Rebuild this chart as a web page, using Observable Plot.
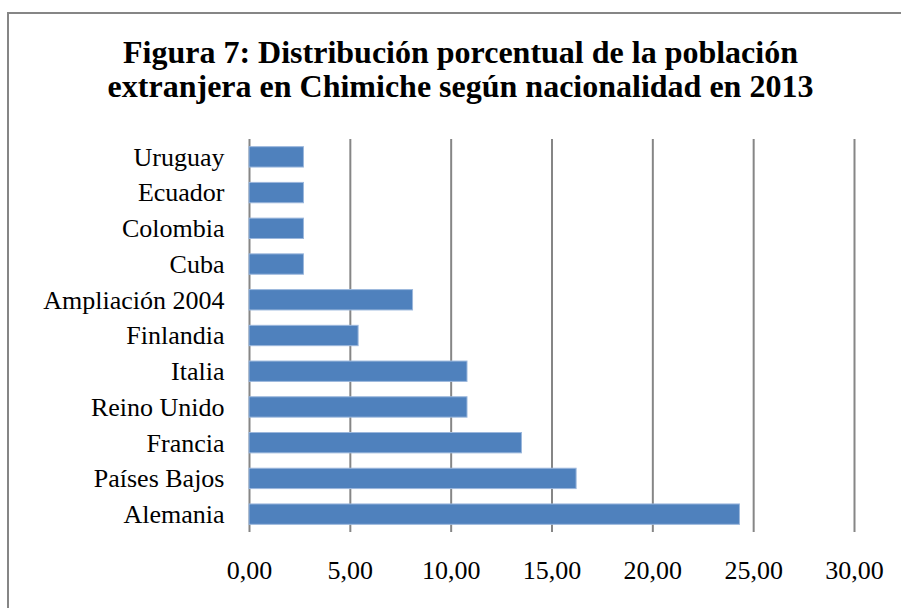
<!DOCTYPE html>
<html>
<head>
<meta charset="utf-8">
<script src="https://cdn.jsdelivr.net/npm/d3@7"></script>
<script src="https://cdn.jsdelivr.net/npm/@observablehq/plot@0.6"></script>
<style>
  html, body { margin: 0; padding: 0; background: #fff; }
  #wrap { position: relative; width: 901px; height: 608px; overflow: hidden; background: #fff; }
  #frame { position: absolute; left: 7px; top: 12px; width: 1000px; height: 1000px; border: 2px solid #868686; box-sizing: border-box; }
  #title { position: relative; height: 130px; box-sizing: border-box; padding-top: 35px; padding-left: 20px; text-align: center;
           font-family: "Liberation Serif", "Times New Roman", serif; font-weight: bold; font-size: 32px; line-height: 34px; color: #000; }
  #chart { position: relative; }
</style>
</head>
<body>
<div id="wrap">
  <div id="frame"></div>
  <div id="title">Figura 7: Distribución porcentual de la población<br>extranjera en Chimiche según nacionalidad en 2013</div>
  <div id="chart"></div>
</div>
<script>
const countries = ["Uruguay", "Ecuador", "Colombia", "Cuba", "Ampliación 2004", "Finlandia", "Italia", "Reino Unido", "Francia", "Países Bajos", "Alemania"];
const percents = [2.70, 2.70, 2.70, 2.70, 8.11, 5.41, 10.81, 10.81, 13.51, 16.22, 24.32];
const xTicks = [0, 5, 10, 15, 20, 25, 30];

const data = countries.map((c, i) => ({country: c, value: percents[i]}));
const fmt = d => d.toFixed(2).replace(".", ",");

const plot = Plot.plot({
  width: 901,
  height: 478,
  marginTop: 9,
  marginBottom: 76,
  marginLeft: 249,
  marginRight: 47,
  style: {fontFamily: "'Liberation Serif', 'Times New Roman', serif", fontSize: "26px", color: "#000", background: "transparent"},
  x: {domain: [0, 30], ticks: xTicks, tickSize: 0, tickPadding: 28, tickFormat: fmt, label: null},
  y: {domain: countries, paddingInner: 0.43, paddingOuter: 0.215, round: false, tickSize: 0, tickPadding: 25, label: null},
  marks: [
    Plot.ruleX(xTicks, {x: d => d, stroke: "#868686", strokeWidth: 2, strokeOpacity: 1}),
    Plot.barX(data, {x: "value", y: "country", fill: "#4F81BD", stroke: "#9bb7dc", strokeWidth: 1}),
    Plot.axisX({ticks: xTicks, tickSize: 0, tickPadding: 28, tickFormat: fmt, fontSize: 26, fill: "#000"}),
    Plot.axisY({tickSize: 0, tickPadding: 25, fontSize: 26, fill: "#000"})
  ]
});
document.getElementById("chart").appendChild(plot);
</script>
</body>
</html>
